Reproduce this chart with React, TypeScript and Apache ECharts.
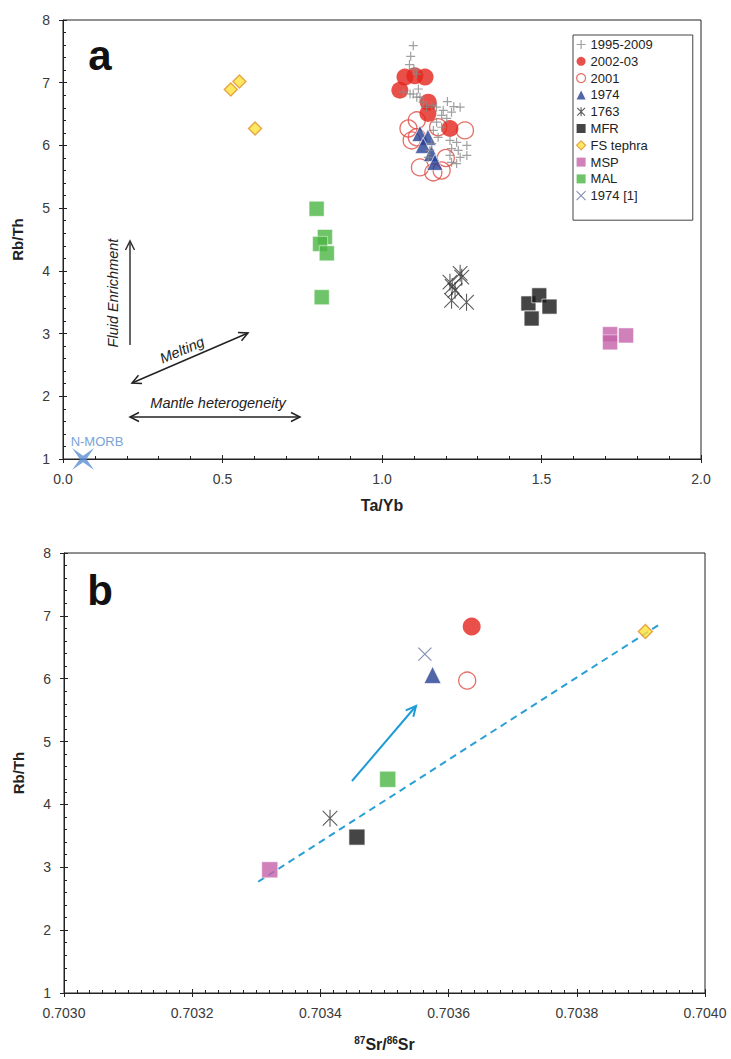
import React, { useEffect, useRef } from "react";
import * as echarts from "echarts";

const FONT = '"Liberation Sans", Arial, Helvetica, sans-serif';

// ---------------- Panel a : Rb/Th vs Ta/Yb ----------------
const taYbTickLabels = ["0.0", "0.5", "1.0", "1.5", "2.0"];
const rbThTickLabels = ["1", "2", "3", "4", "5", "6", "7", "8"];

const a1995_2009: number[][] = [
  [1.098, 7.59], [1.09, 7.42], [1.086, 7.29], [1.1, 7.22], [1.109, 7.14], [1.067, 6.85],
  [1.088, 6.82], [1.114, 6.9], [1.119, 6.77], [1.129, 6.69], [1.14, 6.61], [1.156, 6.64],
  [1.171, 6.61], [1.192, 6.56], [1.218, 6.53], [1.245, 6.61], [1.205, 6.7], [1.225, 6.62],
  [1.187, 6.48], [1.203, 6.43], [1.171, 6.37], [1.187, 6.29], [1.161, 6.24], [1.176, 6.13],
  [1.156, 6.03], [1.213, 6.08], [1.234, 6.05], [1.266, 6.0], [1.218, 5.95], [1.239, 5.92],
  [1.213, 5.84], [1.245, 5.81], [1.266, 5.84], [1.218, 5.73], [1.234, 5.71], [1.15, 5.92],
  [1.145, 5.81], [1.098, 6.82], [1.109, 6.77],
];
const a2002_03: number[][] = [
  [1.056, 6.88], [1.072, 7.09], [1.103, 7.11], [1.135, 7.09], [1.145, 6.69], [1.144, 6.51], [1.213, 6.27],
];
const a2001: number[][] = [
  [1.083, 6.27], [1.109, 6.4], [1.109, 6.13], [1.093, 6.08], [1.26, 6.24], [1.176, 6.29],
  [1.119, 5.65], [1.161, 5.57], [1.187, 5.6], [1.2, 5.8],
];
const a1974: number[][] = [
  [1.119, 6.19], [1.144, 6.13], [1.129, 6.0], [1.155, 5.87], [1.166, 5.73],
];
const a1763: number[][] = [
  [1.213, 3.82], [1.25, 3.9], [1.245, 3.96], [1.22, 3.75], [1.229, 3.69], [1.218, 3.53], [1.265, 3.5],
];
const aMFR: number[][] = [[1.459, 3.48], [1.493, 3.61], [1.525, 3.43], [1.469, 3.24]];
const aFSTephra: number[][] = [[0.526, 6.89], [0.553, 7.02], [0.602, 6.27]];
const aMSP: number[][] = [[1.715, 2.99], [1.715, 2.86], [1.765, 2.97]];
const aMAL: number[][] = [[0.795, 4.99], [0.821, 4.54], [0.806, 4.43], [0.827, 4.28], [0.811, 3.58]];
const aNMORB: number[][] = [[0.063, 1.0]];

// ---------------- Panel b : Rb/Th vs 87Sr/86Sr ----------------
const srTickLabels = ["0.7030", "0.7032", "0.7034", "0.7036", "0.7038", "0.7040"];
const bMSP: number[][] = [[0.703321, 2.96]];
const b1763: number[][] = [[0.703415, 3.78]];
const bMFR: number[][] = [[0.703457, 3.48]];
const bMAL: number[][] = [[0.703505, 4.4]];
const b1974ref: number[][] = [[0.703563, 6.39]];
const b1974: number[][] = [[0.703575, 6.06]];
const b2001: number[][] = [[0.703629, 5.97]];
const b2002_03: number[][] = [[0.703636, 6.83]];
const bFSTephra: number[][] = [[0.703907, 6.75]];
const bTrend: number[][] = [[0.703303, 2.77], [0.70393, 6.87]];

// ---------------- symbols & styles ----------------
const PLUS = "path://M0,-5L0,5M-5,0L5,0";
const ASTER = "path://M0,-5L0,5M-4.3,-4.3L4.3,4.3M-4.3,4.3L4.3,-4.3";
const CROSS = "path://M-5,-5L5,5M-5,5L5,-5";
const STAR4 = "path://M-10,-10L0,-3L10,-10L3,0L10,10L0,3L-10,10L-3,0Z";
const NONE = "rgba(0,0,0,0)";

const ST: Record<string, any> = {
  "1995-2009": { symbol: PLUS, size: 9, itemStyle: { color: NONE, borderColor: "#8a8a8a", borderWidth: 1.2 } },
  "2002-03": { symbol: "circle", size: 17, itemStyle: { color: "#e3241b" } },
  "2001": { symbol: "circle", size: 17, itemStyle: { color: NONE, borderColor: "#e04a40", borderWidth: 1.3 } },
  "1974": { symbol: "triangle", size: 16, itemStyle: { color: "#253e93", borderColor: "#ffffff", borderWidth: 0.8 } },
  "1763": { symbol: ASTER, size: 17, itemStyle: { color: NONE, borderColor: "#333333", borderWidth: 1.1 } },
  MFR: { symbol: "rect", size: 15, itemStyle: { color: "#161616", borderColor: "#ffffff", borderWidth: 0.8 } },
  "FS tephra": { symbol: "diamond", size: 13, itemStyle: { color: "#ffe23a", borderColor: "#e0922b", borderWidth: 1.4 } },
  MSP: { symbol: "rect", size: 15, itemStyle: { color: "#c462a9", borderColor: "#ffffff", borderWidth: 0.6 } },
  MAL: { symbol: "rect", size: 15, itemStyle: { color: "#4bb543", borderColor: "#ffffff", borderWidth: 0.6 } },
  "1974 [1]": { symbol: CROSS, size: 13, itemStyle: { color: NONE, borderColor: "#6574a4", borderWidth: 1.2 } },
};

const legendNames = ["1995-2009", "2002-03", "2001", "1974", "1763", "MFR", "FS tephra", "MSP", "MAL", "1974 [1]"];
const legendBorder: Record<string, number> = {
  "1995-2009": 1.2, "2002-03": 0, "2001": 1.2, "1974": 0, "1763": 1.1, MFR: 0,
  "FS tephra": 1.2, MSP: 0, MAL: 0, "1974 [1]": 1.1,
};

function sc(name: string, data: number[][], g: number, z = 3, sizeOverride?: number) {
  const s = ST[name];
  return {
    type: "scatter", name, data, xAxisIndex: g * 2, yAxisIndex: g * 2,
    symbol: s.symbol, symbolSize: sizeOverride ?? s.size, symbolKeepAspect: true,
    itemStyle: s.itemStyle, z, silent: true, clip: false, emphasis: { disabled: true },
  };
}

const AX = "#222222";
const LBL = { color: "#3a3a3a", fontSize: 14, fontFamily: FONT };

function xAxes(g: number, min: number, max: number, interval: number, minorSplit: number, labels: string[], name: any, nameGap: number, rich?: any) {
  return [
    {
      type: "value", gridIndex: g, min, max, interval, position: "bottom",
      axisLine: { onZero: false, lineStyle: { color: AX, width: 1 } },
      axisTick: { show: true, inside: false, length: 4, lineStyle: { color: AX } },
      minorTick: { show: false }, splitLine: { show: false },
      axisLabel: { ...LBL, margin: 13, formatter: (_v: number, i: number) => labels[i] },
      name, nameLocation: "middle", nameGap,
      nameTextStyle: { fontFamily: FONT, fontSize: 16, fontWeight: "bold", color: "#222", rich },
    },
    {
      type: "value", gridIndex: g, min, max, interval, position: "bottom",
      axisLine: { show: false, onZero: false },
      axisTick: { show: true, inside: true, length: 4, lineStyle: { color: AX } },
      minorTick: { show: true, splitNumber: minorSplit, length: 3, lineStyle: { color: AX } },
      splitLine: { show: false }, axisLabel: { show: false },
    },
  ];
}
function yAxes(g: number) {
  return [
    {
      type: "value", gridIndex: g, min: 1, max: 8, interval: 1, position: "left",
      axisLine: { onZero: false, lineStyle: { color: AX, width: 1 } },
      axisTick: { show: true, inside: false, length: 4, lineStyle: { color: AX } },
      minorTick: { show: false }, splitLine: { show: false },
      axisLabel: { ...LBL, margin: 13, formatter: (_v: number, i: number) => rbThTickLabels[i] },
      name: "Rb/Th", nameLocation: "middle", nameGap: 38,
      nameTextStyle: { fontFamily: FONT, fontSize: 15, fontWeight: "bold", color: "#222" },
    },
    {
      type: "value", gridIndex: g, min: 1, max: 8, interval: 1, position: "left",
      axisLine: { show: false, onZero: false },
      axisTick: { show: true, inside: true, length: 4, lineStyle: { color: AX } },
      minorTick: { show: true, splitNumber: 5, length: 3, lineStyle: { color: AX } },
      splitLine: { show: false }, axisLabel: { show: false },
    },
  ];
}

function arrowEls(x1: number, y1: number, x2: number, y2: number, color: string, w: number, head: number, both: boolean) {
  const els: any[] = [{ type: "line", shape: { x1, y1, x2, y2 }, style: { stroke: color, lineWidth: w }, silent: true, z: 50 }];
  const mk = (ax: number, ay: number, bx: number, by: number) => {
    const dx = ax - bx, dy = ay - by, L = Math.hypot(dx, dy);
    const ux = dx / L, uy = dy / L, px = -uy, py = ux;
    const hl = head, hw = head * 0.5;
    return {
      type: "polyline",
      shape: { points: [[ax - ux * hl + px * hw, ay - uy * hl + py * hw], [ax, ay], [ax - ux * hl - px * hw, ay - uy * hl - py * hw]] },
      style: { stroke: color, lineWidth: w, fill: null }, silent: true, z: 50,
    };
  };
  els.push(mk(x2, y2, x1, y1));
  if (both) els.push(mk(x1, y1, x2, y2));
  return els;
}

function annText(text: string, x: number, y: number, opts: any = {}) {
  return {
    type: "text", x, y, rotation: opts.rotation || 0, silent: true, z: 50,
    style: {
      text, fontFamily: FONT, fontSize: opts.fontSize || 14.5, fontStyle: opts.italic ? "italic" : "normal",
      fontWeight: opts.bold ? "bold" : "normal", fill: opts.color || "#222", align: "center", verticalAlign: "middle",
    },
  };
}

export default function App() {
  const ref = useRef<HTMLDivElement>(null);
  useEffect(() => {
    document.body.style.margin = "0";
    if (!ref.current) return;
    const chart = echarts.init(ref.current, null, { renderer: "svg" });

    const option: any = {
      animation: false,
      backgroundColor: "#ffffff",
      textStyle: { fontFamily: FONT },
      grid: [
        { left: 63, top: 20, width: 638, height: 439, show: true, borderColor: AX, borderWidth: 1, backgroundColor: "transparent", containLabel: false },
        { left: 64, top: 553, width: 641, height: 440, show: true, borderColor: AX, borderWidth: 1, backgroundColor: "transparent", containLabel: false },
      ],
      xAxis: [
        ...xAxes(0, 0, 2, 0.5, 5, taYbTickLabels, "Ta/Yb", 38),
        ...xAxes(1, 0.703, 0.704, 0.0002, 10, srTickLabels, "{s|87}{n|Sr/}{s|86}{n|Sr}", 42, {
          s: { fontSize: 10, fontWeight: "bold", fontFamily: FONT, color: "#222", verticalAlign: "top", lineHeight: 18 },
          n: { fontSize: 16, fontWeight: "bold", fontFamily: FONT, color: "#222", lineHeight: 18 },
        }),
      ],
      yAxis: [...yAxes(0), ...yAxes(1)],
      legend: {
        data: legendNames.map((n) => ({ name: n, itemStyle: { borderWidth: legendBorder[n] } })),
        orient: "vertical", left: 573, top: 35, padding: [3, 40, 18, 3],
        itemWidth: 9, itemHeight: 9, itemGap: 3.8, selectedMode: false,
        backgroundColor: "#ffffff", borderColor: "#444", borderWidth: 1, borderRadius: 0,
        textStyle: { fontFamily: FONT, fontSize: 13, color: "#222", lineHeight: 13 },
      },
      series: [
        // panel a
        sc("MAL", aMAL, 0),
        sc("MSP", aMSP, 0),
        sc("MFR", aMFR, 0),
        sc("FS tephra", aFSTephra, 0),
        sc("1763", a1763, 0),
        sc("2001", a2001, 0),
        sc("2002-03", a2002_03, 0),
        sc("1974", a1974, 0),
        sc("1995-2009", a1995_2009, 0),
        {
          type: "scatter", name: "N-MORB", data: aNMORB, xAxisIndex: 0, yAxisIndex: 0,
          symbol: STAR4, symbolSize: 22, itemStyle: { color: "#5b8fd6" }, z: 10, silent: true, clip: false,
        },
        // panel b
        {
          type: "line", name: "trend", data: bTrend, xAxisIndex: 2, yAxisIndex: 2, symbol: "none",
          lineStyle: { color: "#2a9fd6", width: 2, type: [7, 5] }, z: 2, silent: true,
        },
        sc("MSP", bMSP, 1, 3, 16),
        sc("1763", b1763, 1),
        sc("MFR", bMFR, 1, 3, 16),
        sc("MAL", bMAL, 1, 3, 16),
        sc("1974 [1]", b1974ref, 1),
        sc("1974", b1974, 1, 3, 17),
        sc("2001", b2001, 1),
        sc("2002-03", b2002_03, 1, 3, 18),
        sc("FS tephra", bFSTephra, 1, 3, 14),
      ],
      graphic: [
        annText("a", 100, 55, { fontSize: 42, bold: true, color: "#111" }),
        annText("b", 100, 590, { fontSize: 42, bold: true, color: "#111" }),
        ...arrowEls(130, 345, 130, 241, "#333", 1.5, 9, false),
        annText("Fluid Enrichment", 113, 293, { italic: true, rotation: Math.PI / 2 }),
        ...arrowEls(132, 383, 248, 333, "#222", 1.5, 9, true),
        annText("Melting", 182, 350, { italic: true, rotation: Math.atan2(50, 116) }),
        ...arrowEls(130, 417, 300, 417, "#222", 1.5, 9, true),
        annText("Mantle heterogeneity", 218, 403, { italic: true }),
        annText("N-MORB", 97, 441, { fontSize: 13, color: "#7aa3d8" }),
        ...arrowEls(352, 781, 416, 706, "#1f9bd7", 2, 10, false),
      ],
    };
    chart.setOption(option);
    return () => chart.dispose();
  }, []);
  return <div ref={ref} style={{ width: 731, height: 1059 }} />;
}
